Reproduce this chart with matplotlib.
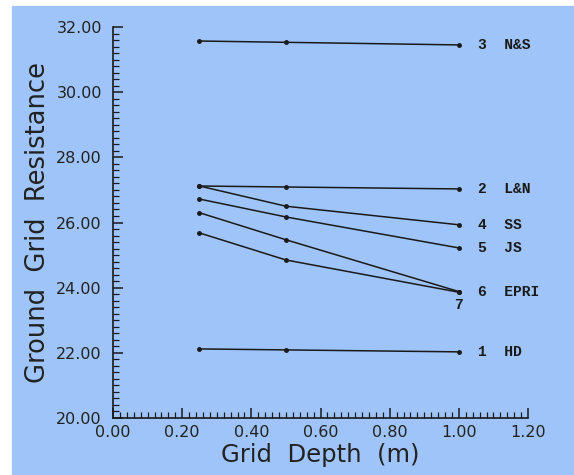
import numpy as np
import matplotlib.pyplot as plt
from matplotlib.ticker import MultipleLocator, FormatStrFormatter
from matplotlib.patches import Rectangle

# grid depth (m) and resistance per method
depth = [0.25, 0.50, 1.00]
hd = [22.12, 22.09, 22.03]
ln = [27.12, 27.09, 27.03]
ns = [31.57, 31.53, 31.45]
ss = [27.12, 26.50, 25.93]
js = [26.72, 26.17, 25.22]
epri = [26.30, 25.47, 23.88]
m7 = [25.68, 24.85, 23.86]

series = [hd, ln, ns, ss, js, epri, m7]
labels = ["1  HD", "2  L&N", "3  N&S", "4  SS", "5  JS", "6  EPRI", None]

bg = "#9fc4fa"
ink = "#1a1a1a"

fig = plt.figure(figsize=(5.74, 4.75), dpi=100)
fig.patch.set_facecolor("white")
fig.patches.append(Rectangle((12 / 574, 0.0), 1 - 12 / 574, 1 - 6 / 475,
                             transform=fig.transFigure, color=bg, zorder=-10))

ax = fig.add_axes([113 / 574, 57 / 475, 415 / 574, 391 / 475])
ax.set_facecolor("none")

for y, lab in zip(series, labels):
    ax.plot(depth, y, color=ink, lw=1.1, marker="o", ms=2.5)
    if lab:
        ax.annotate(lab, (depth[-1], y[-1]), xytext=(14, 0), textcoords="offset points",
                    va="center", ha="left", fontsize=10.5, family="Liberation Mono",
                    fontweight="bold", color=ink)
ax.annotate("7", (depth[-1], m7[-1]), xytext=(0, -9), textcoords="offset points",
            va="center", ha="center", fontsize=10.5, family="Liberation Mono",
            fontweight="bold", color=ink)

ax.set_xlim(0, 1.2)
ax.set_ylim(20, 32)
ax.xaxis.set_major_locator(MultipleLocator(0.2))
ax.xaxis.set_minor_locator(MultipleLocator(0.02))
ax.yaxis.set_major_locator(MultipleLocator(2))
ax.yaxis.set_minor_locator(MultipleLocator(0.2))
ax.xaxis.set_major_formatter(FormatStrFormatter("%.2f"))
ax.yaxis.set_major_formatter(FormatStrFormatter("%.2f"))

for s in ["top", "right"]:
    ax.spines[s].set_visible(False)
for s in ["left", "bottom"]:
    ax.spines[s].set_color(ink)
    ax.spines[s].set_linewidth(1.2)

ax.tick_params(which="both", direction="in", color=ink, labelcolor="#222222",
               labelsize=11.5)
ax.tick_params(which="major", length=7, width=1.1)
ax.tick_params(which="minor", length=4, width=0.9)
ax.tick_params(axis="x", pad=5)
ax.tick_params(axis="y", pad=8)

ax.set_xlabel("Grid  Depth  (m)", fontsize=17.5, color="#222222", labelpad=2)
ax.set_ylabel("Ground  Grid  Resistance", fontsize=18.5, color="#222222", labelpad=4)

fig.savefig("out.png", dpi=100)
